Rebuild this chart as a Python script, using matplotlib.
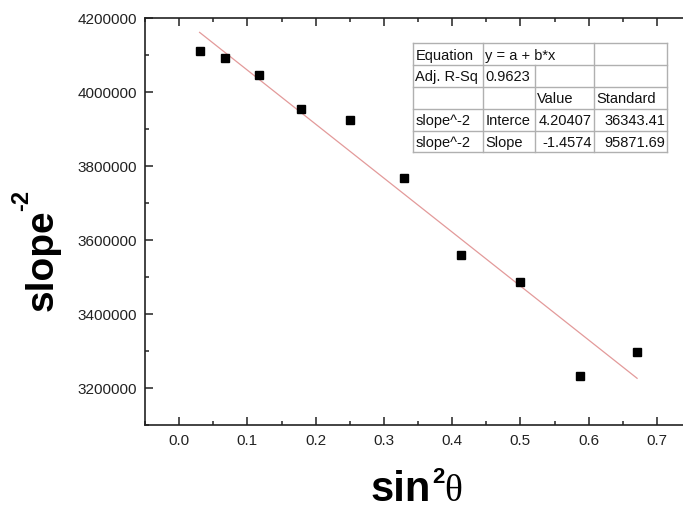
import matplotlib
matplotlib.use("Agg")
import matplotlib.pyplot as plt
from matplotlib.ticker import MultipleLocator, FixedLocator
import numpy as np

plt.rcParams['font.family'] = ['Liberation Sans', 'DejaVu Sans']

# Data
sin2theta = [0.030, 0.067, 0.117, 0.179, 0.250, 0.329, 0.413, 0.500, 0.587, 0.671]
slope_m2 = [4109000, 4091000, 4046000, 3953000, 3925000, 3767000, 3559000, 3486000, 3232000, 3296000]
fit_intercept = 4.20407e6
fit_slope = -1.4574e6

x_ticks = [0.0, 0.1, 0.2, 0.3, 0.4, 0.5, 0.6, 0.7]
y_ticks = [3200000, 3400000, 3600000, 3800000, 4000000, 4200000]

table_rows = [
    ["Equation", "y = a + b*x", "", ""],
    ["Adj. R-Sq", "0.9623", "", ""],
    ["", "", "Value", "Standard"],
    ["slope^-2", "Interce", "4.20407", "36343.41"],
    ["slope^-2", "Slope", "-1.4574", "95871.69"],
]

W, H = 683, 510
fig = plt.figure(figsize=(W / 100, H / 100), dpi=100)

def fx(px):
    return px / W

def fy(py):
    return 1 - py / H

ax = fig.add_axes([fx(145), fy(426), (691 - 145) / W, (426 - 18.7) / H])

ax.plot(sin2theta, slope_m2, 's', color='black', markersize=5.3, zorder=3)
xf = np.array([min(sin2theta), max(sin2theta)])
ax.plot(xf, fit_intercept + fit_slope * xf, color='#e39a9a', lw=0.9, zorder=2)

ax.set_xlim(-0.05, 0.75)
ax.set_ylim(3100000, 4200000)
ax.xaxis.set_major_locator(FixedLocator(x_ticks))
ax.yaxis.set_major_locator(FixedLocator(y_ticks))
ax.xaxis.set_minor_locator(MultipleLocator(0.05))
ax.yaxis.set_minor_locator(MultipleLocator(100000))
ax.set_xticklabels([f"{v:.1f}" for v in x_ticks])
ax.set_yticklabels([str(v) for v in y_ticks])

ax.tick_params(which='both', direction='in', top=True, right=True, width=1.1, color='#222222')
ax.tick_params(which='major', length=6, labelsize=11, labelcolor='#222222')
ax.tick_params(which='minor', length=3)
ax.tick_params(axis='y', pad=6)
ax.tick_params(axis='x', pad=6)
for s in ax.spines.values():
    s.set_linewidth(1.2)
    s.set_color('#222222')
ax.spines['right'].set_visible(False)

# Y label: "slope" with superscript "-2"
fig.text(fx(53), fy(311), "slope", rotation=90, rotation_mode='anchor', ha='left', va='baseline',
         fontsize=28, fontweight='bold')
fig.text(fx(28), fy(211), "-2", rotation=90, rotation_mode='anchor', ha='left', va='baseline',
         fontsize=17, fontweight='bold')

# X label: "sin" + superscript "2" + theta
fig.text(fx(371), fy(501), "sin", ha='left', va='baseline', fontsize=30, fontweight='bold')
fig.text(fx(432), fy(483), "2", ha='left', va='baseline', fontsize=16, fontweight='bold')
fig.text(fx(444), fy(501), "θ", ha='left', va='baseline', fontsize=27,
         family=['Liberation Serif', 'DejaVu Serif'])

# Table
col_x = [413.3, 483.3, 535, 594, 667.3]
row_y = [44.3, 66, 87.7, 110, 131.7, 153.3]
grid_col = '#b0b0b0'
for i, yv in enumerate(row_y):
    fig.add_artist(plt.Line2D([fx(col_x[0]), fx(col_x[-1])], [fy(yv), fy(yv)], color=grid_col, lw=1.0))
for j, xv in enumerate(col_x):
    y_start = row_y[1] if j == 2 else row_y[0]
    fig.add_artist(plt.Line2D([fx(xv), fx(xv)], [fy(y_start), fy(row_y[-1])], color=grid_col, lw=1.0))

right_cells = {(3, 2), (4, 2), (3, 3), (4, 3)}
for r, row in enumerate(table_rows):
    yc = (row_y[r] + row_y[r + 1]) / 2 + 0.5
    for c, txt in enumerate(row):
        if not txt:
            continue
        if (r, c) in right_cells:
            fig.text(fx(col_x[c + 1] - 2), fy(yc), txt, ha='right', va='center', fontsize=10.5, color='#111111')
        else:
            fig.text(fx(col_x[c] + 2), fy(yc), txt, ha='left', va='center', fontsize=10.5, color='#111111')

fig.savefig("out.png", dpi=100)
